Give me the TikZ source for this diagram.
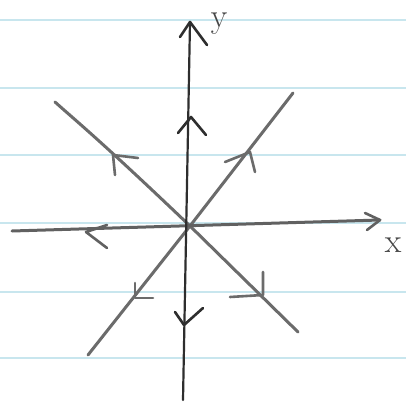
\documentclass[tikz,border=0pt]{standalone}
\usetikzlibrary{calc}
\definecolor{paperblue}{RGB}{200,230,238}
\begin{document}
\begin{tikzpicture}[x=1pt,y=-1pt,
  paper/.style={draw=paperblue, line width=1.3pt},
  axisline/.style={draw=black!82, line width=2.2pt, line cap=round, line join=round},
  xline/.style={draw=black!62, line width=3pt, line cap=round, line join=round},
  diag/.style={draw=black!58, line width=3pt, line cap=round, line join=round},
  barb/.style={line width=2.6pt, line cap=round, line join=round},
  lab/.style={text=black!72, font=\fontsize{34}{34}\selectfont, inner sep=0pt}]
\useasboundingbox[fill=white] (0,0) rectangle (406,403);
% notebook lines
\foreach \yy in {20,88,155,223,292,358}
  \draw[paper] (0,\yy) -- (406,\yy);
% key points
\coordinate (O) at (190,226);
\coordinate (ytop) at (190,22);
\coordinate (ybot) at (183,400);
\coordinate (xleft) at (12,231);
\coordinate (xright) at (380,220);
\coordinate (ul) at (55,102);
\coordinate (lr) at (298,332);
\coordinate (ll) at (88,355);
\coordinate (ur) at (293,93);
% diagonals
\draw[diag] (ul) .. controls (75,120) and (100,140) .. (O) -- (lr);
\draw[diag] (ll) -- (O) -- (ur);
% axes
\draw[xline] (xleft) -- (xright);
\draw[axisline] (ybot) -- (ytop);
% axis arrowheads
\draw[axisline,barb] (180,37) -- (ytop) -- (207,45);
\draw[xline,barb] (365,213) -- (xright) -- (367,230);
% y axis mid arrows
\draw[axisline,barb] (178,133) -- (191,117) -- (206,135);
\draw[axisline,barb] (175,312) -- (184,325) -- (203,308);
% x axis mid arrow (left)
\draw[xline,barb] (107,225) -- (86,232) -- (107,248);
% diagonal arrows
\draw[diag,barb] (138,158) -- (113,155) -- (115,175);
\draw[diag,barb] (263,272) -- (263,295) -- (230,297);
\draw[diag,barb] (225,162) -- (250,152) -- (255,172);
\draw[diag,barb] (135,283) -- (135,298) -- (153,298);
% labels
\node[lab] (ylab) at (219,24) {y};
\node[lab] (xlab) at (393,245) {x};
\end{tikzpicture}
\end{document}
